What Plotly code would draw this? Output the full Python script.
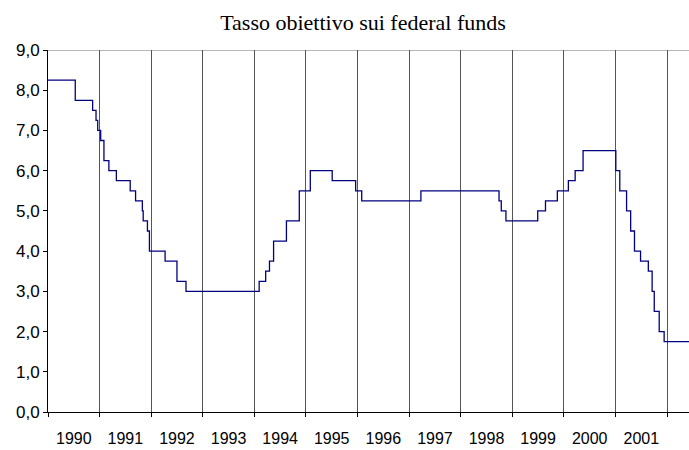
import plotly.graph_objects as go

# Change dates of the federal funds target rate and the new level (%)
dates = [
    "1990-01-01", "1990-07-13", "1990-11-13", "1990-12-07", "1990-12-19",
    "1991-01-09", "1991-02-01", "1991-03-08", "1991-04-30", "1991-08-06",
    "1991-09-13", "1991-10-31", "1991-11-06", "1991-12-06", "1991-12-20",
    "1992-04-09", "1992-07-02", "1992-09-04",
    "1994-02-04", "1994-03-22", "1994-04-18", "1994-05-17", "1994-08-16",
    "1994-11-15", "1995-02-01", "1995-07-06", "1995-12-19", "1996-01-31",
    "1997-03-25", "1998-09-29", "1998-10-15", "1998-11-17",
    "1999-06-30", "1999-08-24", "1999-11-16",
    "2000-02-02", "2000-03-21", "2000-05-16",
    "2001-01-03", "2001-01-31", "2001-03-20", "2001-04-18", "2001-05-15",
    "2001-06-27", "2001-08-21", "2001-09-17", "2001-10-02", "2001-11-06",
    "2001-12-11", "2002-06-05",
]
rates = [
    8.25, 7.75, 7.50, 7.25, 7.00,
    6.75, 6.25, 6.00, 5.75, 5.50,
    5.25, 5.00, 4.75, 4.50, 4.00,
    3.75, 3.25, 3.00,
    3.25, 3.50, 3.75, 4.25, 4.75,
    5.50, 6.00, 5.75, 5.50, 5.25,
    5.50, 5.25, 5.00, 4.75,
    5.00, 5.25, 5.50,
    5.75, 6.00, 6.50,
    6.00, 5.50, 5.00, 4.50, 4.00,
    3.75, 3.50, 3.00, 2.50, 2.00,
    1.75, 1.75,
]
title_text = "Tasso obiettivo sui federal funds"
y_ticks = [0, 1, 2, 3, 4, 5, 6, 7, 8, 9]

fig = go.Figure()
fig.add_trace(go.Scatter(
    x=dates, y=rates, mode="lines",
    line=dict(shape="hv", color="#000080", width=1.3),
    hoverinfo="x+y", showlegend=False,
))

fig.update_layout(
    width=689, height=450,
    margin=dict(l=48, r=0, t=50, b=38),
    paper_bgcolor="white", plot_bgcolor="white",
    separators=", ",
    title=dict(
        text=title_text, x=363 / 689, xref="container", xanchor="center",
        y=1 - 22 / 450, yref="container", yanchor="middle",
        font=dict(family="Liberation Serif", size=22, color="black"),
    ),
    xaxis=dict(
        type="date",
        range=["1990-01-01", "2002-06-05"],
        tick0="1990-01-01", dtick="M12",
        tickformat="%Y", ticklabelmode="period",
        ticks="outside", ticklen=4, tickcolor="black",
        showline=True, linecolor="black", linewidth=1,
        showgrid=True, gridcolor="#555555", gridwidth=1.2,
        tickfont=dict(family="Liberation Sans", size=16, color="black"),
        ticklabelstandoff=8,
        zeroline=False,
    ),
    yaxis=dict(
        range=[0, 9], tickvals=y_ticks, tickformat=".1f",
        ticks="outside", ticklen=4, tickcolor="black",
        showline=True, linecolor="black", linewidth=1,
        showgrid=False, zeroline=False,
        tickfont=dict(family="Liberation Sans", size=17, color="black"),
    ),
    shapes=[dict(type="line", xref="paper", x0=0, x1=1, yref="y", y0=9, y1=9,
                 line=dict(color="#a0a0a0", width=1.5), layer="below")],
)

fig.write_html("out.html",
               config={"displayModeBar": False},
               post_script="document.body.style.margin='0';document.body.style.overflow='hidden';")
